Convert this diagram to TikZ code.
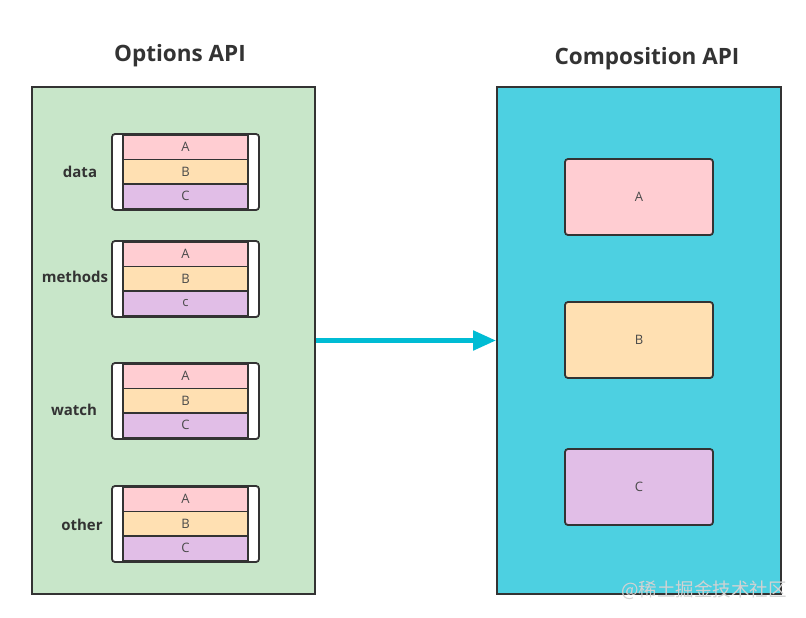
\documentclass[tikz,border=0pt]{standalone}
\usepackage{fontspec}
\setmainfont{Open Sans}
\newfontfamily\cjkfont{Noto Sans CJK SC}
\usetikzlibrary{arrows.meta}
\definecolor{edgec}{HTML}{333333}
\definecolor{greenbg}{HTML}{C8E6C9}
\definecolor{cyanbg}{HTML}{4DD0E1}
\definecolor{arrowc}{HTML}{00BCD4}
\definecolor{pinkc}{HTML}{FFCDD2}
\definecolor{orangec}{HTML}{FFE0B2}
\definecolor{purplec}{HTML}{E1BEE7}
\definecolor{txtc}{HTML}{4A4A4A}
\begin{document}
\begin{tikzpicture}[x=1pt,y=-1pt,
  panel/.style={draw=edgec, line width=1.8pt, inner sep=0pt},
  holder/.style={draw=edgec, fill=white, rounded corners=3pt, line width=1.8pt, minimum width=147pt, minimum height=76pt, inner sep=0pt},
  cell/.style={draw=edgec, line width=1.6pt, minimum width=125pt, minimum height=24.5pt, inner sep=0pt, text=txtc, font=\fontsize{13}{14}\selectfont},
  bigcell/.style={draw=edgec, line width=1.8pt, rounded corners=3pt, minimum width=148pt, minimum height=76pt, inner sep=0pt, text=txtc, font=\fontsize{13}{14}\selectfont},
  title/.style={font=\fontsize{22.5}{25}\selectfont\bfseries, text=edgec},
  label/.style={font=\fontsize{15}{18}\selectfont\bfseries, text=edgec},
  flow/.style={draw=arrowc, line width=5pt, -{Triangle[length=23pt,width=19pt]}}
]
\useasboundingbox (0,0) rectangle (806,618);

\node[title] (t1) at (180,56) {Options API};
\node[title] (t2) at (647,59) {Composition API};

\node[panel, fill=greenbg, minimum width=283pt, minimum height=507pt] (left) at (173.5,340.5) {};
\node[panel, fill=cyanbg, minimum width=284pt, minimum height=507pt] (right) at (639,340.5) {};

% groups
\foreach \name/\top/\lbl/\lx/\ly/\third in {data/134/data/80/172/C, methods/241/methods/75/277/c, watch/363/watch/74/410/C, other/486/other/82/525/C}{
  \node[holder] (\name-h) at (185.5,\top+38) {};
  \node[cell, fill=pinkc] (\name-a) at (185.5,\top+13.25) {A};
  \node[cell, fill=orangec] (\name-b) at (185.5,\top+37.75) {B};
  \node[cell, fill=purplec] (\name-c) at (185.5,\top+62.25) {\third};
  \node[label] (\name-l) at (\lx,\ly) {\lbl};
}

\node[bigcell, fill=pinkc] (ra) at (639,197) {A};
\node[bigcell, fill=orangec] (rb) at (639,340) {B};
\node[bigcell, fill=purplec] (rc) at (639,487) {C};

\draw[flow] (left.east) -- (right.west);

\node[font=\cjkfont\fontsize{18.5}{20}\selectfont, text=gray!35] (wm) at (704,590) {@稀土掘金技术社区};
\end{tikzpicture}
\end{document}
